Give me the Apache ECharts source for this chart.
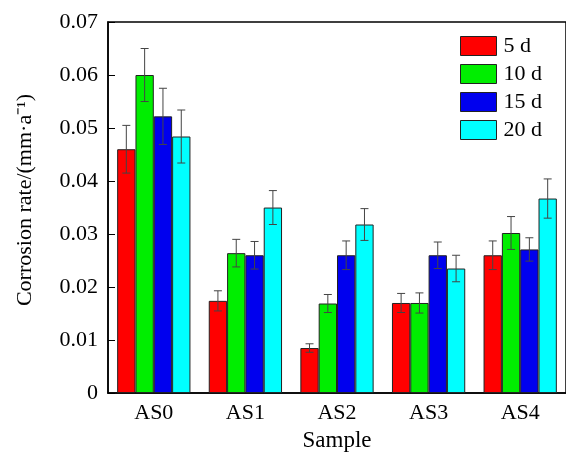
<!DOCTYPE html>
<html>
<head>
<meta charset="utf-8">
<script src="https://cdn.jsdelivr.net/npm/echarts@6/dist/echarts.min.js"></script>
<style>
html,body{margin:0;padding:0;background:#fff;}
#chart{width:566px;height:457px;}
</style>
</head>
<body>
<div id="chart"></div>
<script>
const categories = ['AS0', 'AS1', 'AS2', 'AS3', 'AS4'];
const seriesNames = ['5 d', '10 d', '15 d', '20 d'];
const values5d  = [0.0460, 0.0174, 0.0085, 0.0170, 0.0260];
const values10d = [0.0600, 0.0264, 0.0169, 0.0170, 0.0302];
const values15d = [0.0522, 0.0260, 0.0260, 0.0260, 0.0271];
const values20d = [0.0484, 0.0350, 0.0318, 0.0235, 0.0367];
const err5d  = [0.0045, 0.0019, 0.0008, 0.0018, 0.0027];
const err10d = [0.0050, 0.0026, 0.0017, 0.0019, 0.0031];
const err15d = [0.0053, 0.0026, 0.0027, 0.0025, 0.0022];
const err20d = [0.0050, 0.0032, 0.0030, 0.0025, 0.0037];
const yTicks = [0, 0.01, 0.02, 0.03, 0.04, 0.05, 0.06, 0.07];

const FONT = "'Liberation Serif', 'Times New Roman', serif";
const colors = ['#ff0000', '#00ee00', '#0000ee', '#00ffff'];
const allValues = [values5d, values10d, values15d, values20d];
const allErrs = [err5d, err10d, err15d, err20d];

const barSeries = seriesNames.map((name, i) => ({
  name: name,
  type: 'bar',
  data: allValues[i],
  barGap: '0%',
  barCategoryGap: '20%',
  itemStyle: { color: colors[i], borderColor: '#222', borderWidth: 1 },
  z: 2
}));

const errData = [];
allValues.forEach((vals, s) => {
  vals.forEach((v, c) => { errData.push([c, s, v, allErrs[s][c]]); });
});

const errSeries = {
  type: 'custom',
  name: 'err',
  data: errData,
  z: 5,
  silent: true,
  encode: { x: 0, y: 2 },
  renderItem: function (params, api) {
    const cat = api.value(0), s = api.value(1), v = api.value(2), e = api.value(3);
    const bandW = api.size([1, 0])[0];
    const barW = bandW * 0.8 / 4;
    const x = api.coord([cat, 0])[0] - bandW * 0.4 + barW * (s + 0.5);
    const yt = api.coord([cat, v + e])[1];
    const yb = api.coord([cat, v - e])[1];
    const cap = 4;
    const st = { stroke: '#444', lineWidth: 1 };
    return {
      type: 'group',
      children: [
        { type: 'line', shape: { x1: x, y1: yt, x2: x, y2: yb }, style: st },
        { type: 'line', shape: { x1: x - cap, y1: yt, x2: x + cap, y2: yt }, style: st },
        { type: 'line', shape: { x1: x - cap, y1: yb, x2: x + cap, y2: yb }, style: st }
      ]
    };
  }
};

const chart = echarts.init(document.getElementById('chart'), null, { renderer: 'canvas' });
chart.setOption({
  backgroundColor: '#fff',
  animation: false,
  textStyle: { fontFamily: FONT },
  grid: {
    left: 108, top: 22, width: 468.5, height: 376,
    show: true, borderColor: '#000', borderWidth: 1.5, backgroundColor: 'transparent'
  },
  legend: {
    data: seriesNames,
    orient: 'vertical',
    left: 460, top: 35,
    padding: 0,
    icon: 'rect',
    itemWidth: 36, itemHeight: 19,
    itemGap: 6,
    itemStyle: { borderColor: '#222', borderWidth: 1 },
    textStyle: { fontFamily: FONT, fontSize: 22, color: '#000', lineHeight: 19, padding: [0, 0, 0, 2] },
    selectedMode: false
  },
  xAxis: {
    type: 'category',
    data: categories,
    boundaryGap: true,
    axisLine: { lineStyle: { color: '#000', width: 1.5 } },
    axisTick: { show: false },
    axisLabel: { fontFamily: FONT, fontSize: 22, color: '#000', margin: 9 },
    name: 'Sample',
    nameLocation: 'middle',
    nameGap: 35,
    nameTextStyle: { fontFamily: FONT, fontSize: 23, color: '#000' }
  },
  yAxis: {
    type: 'value',
    min: yTicks[0], max: yTicks[yTicks.length - 1], interval: 0.01,
    axisLine: { show: true, lineStyle: { color: '#000', width: 1.5 } },
    axisTick: { show: true, inside: true, length: 7, lineStyle: { color: '#000', width: 1 } },
    splitLine: { show: false },
    axisLabel: {
      fontFamily: FONT, fontSize: 22, color: '#000', margin: 10,
      formatter: v => (Math.abs(v) < 1e-9 ? '0' : v.toFixed(2))
    }
  },
  graphic: [{
    type: 'text',
    x: 25, y: 200,
    rotation: Math.PI / 2,
    style: {
      text: 'Corrosion rate/(mm\u00b7a\u207b\u00b9)',
      font: '22px ' + FONT,
      fill: '#000',
      align: 'center',
      verticalAlign: 'middle'
    }
  }],
  series: barSeries.concat([errSeries])
});
</script>
</body>
</html>
